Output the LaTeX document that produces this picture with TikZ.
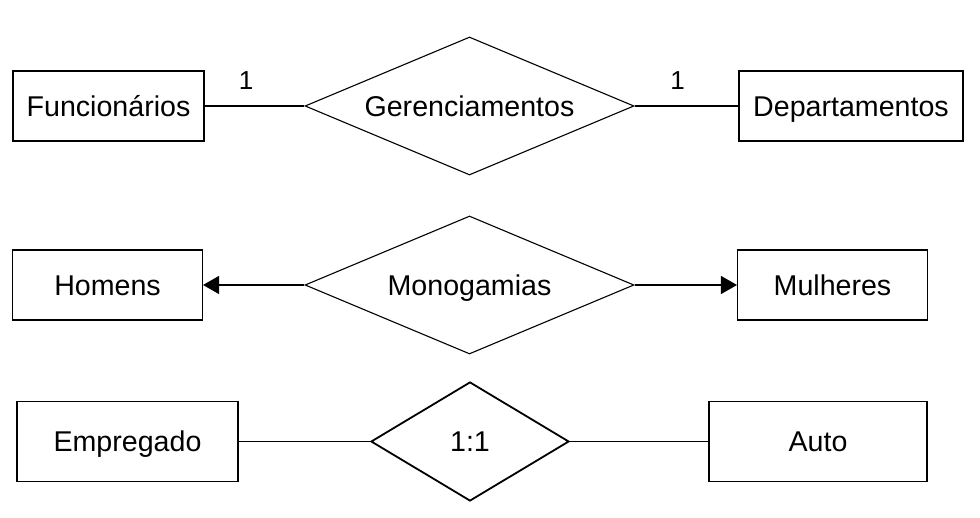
\documentclass[tikz,border=0pt]{standalone}
\usepackage{fontspec}
\setmainfont{Liberation Sans}
\usetikzlibrary{shapes.geometric,arrows.meta}
\begin{document}
\begin{tikzpicture}[x=1pt,y=-1pt,
  lbl/.style={font=\fontsize{28.6}{34}\selectfont,text height=20.5pt,text depth=0pt},
  entity/.style={lbl,draw,rectangle,line width=1.1pt,minimum height=70pt,inner sep=0pt},
  entitybold/.style={entity,line width=1.8pt,minimum height=80pt},
  relation/.style={lbl,draw,diamond,line width=1.1pt,inner sep=0pt},
  conn/.style={line width=1.1pt},
  connbold/.style={line width=1.8pt},
  arr/.style={conn,-{Triangle[length=16pt,width=18pt]}},
  card/.style={font=\fontsize{26}{30}\selectfont,inner sep=0pt}
]
\useasboundingbox (0,0) rectangle (980,518);
% Row 1
\node[entity,minimum width=191pt] (func) at (108.5,106) {Funcionários};
\node[relation,minimum width=329pt,minimum height=138pt,shape aspect=2.38] (ger) at (469.5,106) {Gerenciamentos};
\node[entity,minimum width=224pt] (dep) at (851,106) {Departamentos};
\draw[conn] (func.east) -- (ger.west);
\draw[conn] (ger.east) -- (dep.west);
\node[card] (c1) at (246,81) {1};
\node[card] (c2) at (677.5,81) {1};
% Row 2
\node[entity,minimum width=190pt] (hom) at (107.5,285) {Homens};
\node[relation,minimum width=329pt,minimum height=138pt,shape aspect=2.38] (mono) at (469.5,285) {Monogamias};
\node[entity,minimum width=190pt] (mul) at (832.5,285) {Mulheres};
\draw[arr] (mono.west) -- (hom.east);
\draw[arr] (mono.east) -- (mul.west);
% Row 3
\node[entitybold,minimum width=221pt] (emp) at (127.5,441.5) {Empregado};
\node[relation,line width=1.8pt,minimum width=198pt,minimum height=119pt,shape aspect=1.66] (um) at (470,441.5) {1:1};
\node[entitybold,minimum width=218pt] (auto) at (818,441.5) {Auto};
\draw[connbold] (emp.east) -- (um.west);
\draw[connbold] (um.east) -- (auto.west);
\end{tikzpicture}
\end{document}
